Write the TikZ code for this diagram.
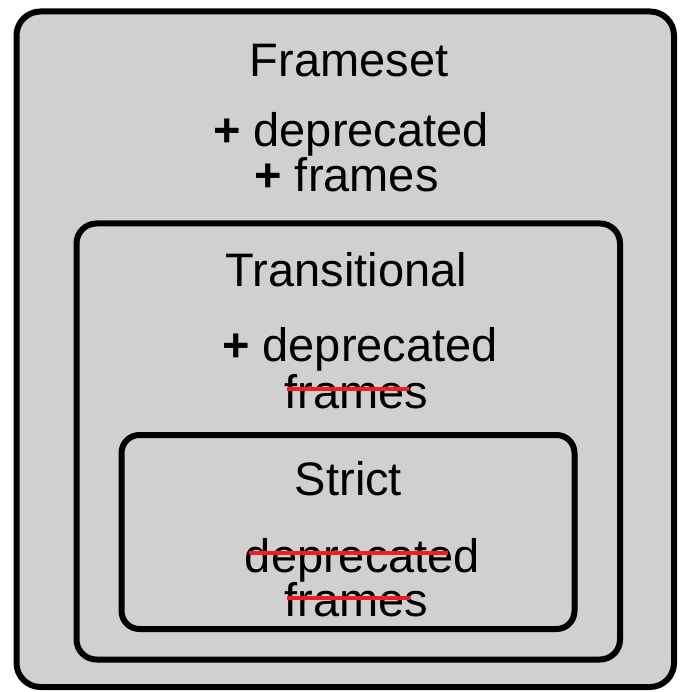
\documentclass[tikz,border=0pt]{standalone}
\usepackage{fontspec}
\setmainfont{Liberation Sans}
\begin{document}
\begin{tikzpicture}[x=1pt,y=-1pt,
  box/.style={draw=black,line width=6pt,fill=boxgray},
  lbl/.style={anchor=base,inner sep=0pt,font=\fontsize{47}{56}\selectfont},
  strike/.style={draw=strikered,line width=3.6pt}]
\definecolor{boxgray}{RGB}{208,208,208}
\definecolor{strikered}{RGB}{240,30,30}
\useasboundingbox (0,0) rectangle (679,692);
\draw[box,rounded corners=24pt] (16.5,11.5) rectangle (674,687);
\draw[box,rounded corners=20pt] (76.5,223.5) rectangle (620,659.5);
\draw[box,rounded corners=18pt] (121.5,435) rectangle (574.5,629);
% Frameset
\node[lbl] (fs) at (349,77) {Frameset};
\node[lbl] (fsd) at (351,147) {\textbf{+} deprecated};
\node[lbl] (fsf) at (346.5,192) {\textbf{+} frames};
% Transitional
\node[lbl] (tr) at (346.5,286) {Transitional};
\node[lbl] (trd) at (360,361.7) {\textbf{+} deprecated};
\node[lbl] (trf) at (356.5,408) {frames};
\draw[strike] (287,388.7) -- (409,388.7);
% Strict
\node[lbl] (st) at (348.5,495) {Strict};
\node[lbl] (std) at (362.5,572.7) {deprecated};
\node[lbl] (stf) at (356.5,616.7) {frames};
\draw[strike] (249,552.7) -- (448,552.7);
\draw[strike] (287,598) -- (410,598);
\end{tikzpicture}
\end{document}
